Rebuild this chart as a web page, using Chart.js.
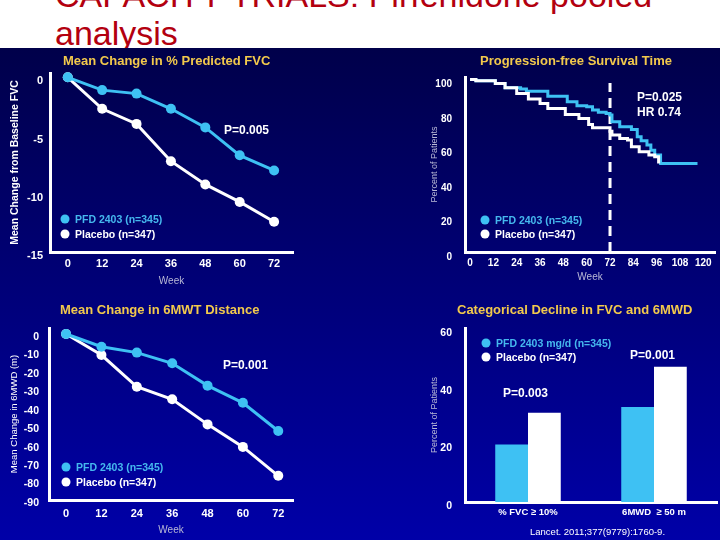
<!DOCTYPE html>
<html>
<head>
<meta charset="utf-8">
<title>CAPACITY trials: Pirfenidone pooled analysis</title>
<script src="https://cdn.jsdelivr.net/npm/chart.js@4.4.1/dist/chart.umd.min.js"></script>
<style>
    body { margin: 0; background: #fff; }
    #slide { position: relative; width: 720px; height: 540px; overflow: hidden; background: #fff; font-family: "Liberation Sans", Arial, sans-serif; }
    #heading { position: absolute; left: 55px; top: -24px; margin: 0; color: #b3000f; font-size: 34px; font-weight: normal; line-height: 38px; white-space: nowrap; }
    #board { position: absolute; left: 0; top: 48px; width: 720px; height: 492px; background: linear-gradient(#00004a, #0000a8); }
    canvas { position: absolute; }
    .txt { position: absolute; white-space: pre; line-height: 1; transform: translateY(-50%); }
    .panel-title { color: #f2c94c; font-weight: bold; font-size: 13px; }
    .pval { color: #fff; font-weight: bold; font-size: 12px; }
    .leg { font-weight: bold; font-size: 10.5px; }
    .dot { position: absolute; width: 9px; height: 9px; border-radius: 50%; transform: translate(-50%, -50%); }
    .cite { color: #fff; font-size: 9.5px; }
</style>
</head>
<body>
<div id="slide">
    <h1 id="heading">CAPACITY TRIALS: Pirfenidone pooled<br>analysis</h1>
    <div id="board"></div>
    <canvas id="fvc-chart" width="300" height="250" style="left:0;top:48px"></canvas>
    <canvas id="pfs-chart" width="300" height="250" style="left:420px;top:48px"></canvas>
    <canvas id="walk-chart" width="300" height="242" style="left:0;top:298px"></canvas>
    <canvas id="decline-chart" width="300" height="242" style="left:420px;top:298px"></canvas>
</div>
<script>
// Series names
const pfdName = 'PFD 2403 (n=345)';
const placeboName = 'Placebo (n=347)';
const barPfdName = 'PFD 2403 mg/d (n=345)';

// Top left - mean change in % predicted FVC
const weeks = [0, 12, 24, 36, 48, 60, 72];
const fvcPfd = [0, -1.1, -1.4, -2.7, -4.3, -6.7, -8.0];
const fvcPlacebo = [0, -2.7, -4.0, -7.2, -9.2, -10.7, -12.4];
const fvcTicks = [0, -5, -10, -15];

// Top right - progression-free survival (Kaplan-Meier steps)
const kmPfdWeeks = [0, 3, 13, 18, 26, 29, 40, 50, 55, 60, 63, 66, 70, 72, 73, 77, 83, 86, 88, 91, 93, 95, 98, 117];
const kmPfdValues = [100, 99.3, 97.8, 95.2, 94.5, 93.3, 90.4, 87.1, 84.8, 84.2, 82.3, 81, 80.4, 79.4, 75.5, 72.6, 71.1, 66.8, 64.5, 62, 59, 56.2, 51.3, 51.3];
const kmPlaceboWeeks = [0, 3, 13, 18, 24, 30, 36, 40, 49, 56, 61, 63, 72, 73, 77, 81, 83, 87, 92, 95, 97];
const kmPlaceboValues = [100, 99.3, 97.8, 95.2, 92, 88.7, 86.2, 83.3, 79.8, 77.5, 74, 72, 70, 67.8, 65.8, 64.9, 61, 58.1, 56.2, 55.2, 51.3];
const kmWeekTicks = [0, 12, 24, 36, 48, 60, 72, 84, 96, 108, 120];
const kmPercentTicks = [0, 20, 40, 60, 80, 100];
const dashWeek = 72;

// Bottom left - mean change in 6MWT distance
const walkPfd = [0, -6.9, -10.1, -15.9, -28, -37.3, -52.6];
const walkPlacebo = [0, -11.4, -28.6, -35.4, -49, -61.2, -76.9];
const walkTicks = [0, -10, -20, -30, -40, -50, -60, -70, -80, -90];

// Bottom right - categorical decline
const declineCategories = ['% FVC \u2265 10%', '6MWD  \u2265 50 m'];
const declinePfd = [20, 33];
const declinePlacebo = [31, 47];
const declineTicks = [0, 20, 40, 60];

const cyan = '#3ec1f3';
const white = '#ffffff';
const grey = '#b9b9d6';
const slide = document.getElementById('slide');

Chart.defaults.font.family = '"Liberation Sans", Arial, sans-serif';

// Helpers
function toPoints(xs, ys) {
    return xs.map((x, i) => ({ x: x, y: ys[i] }));
}

function fixedTicks(values) {
    return axis => { axis.ticks = values.map(v => ({ value: v })); };
}

function addText(txt, x, y, cls, color) {
    const el = document.createElement('div');
    el.className = 'txt ' + cls;
    el.textContent = txt;
    el.style.left = x + 'px';
    el.style.top = y + 'px';
    if (color) el.style.color = color;
    slide.appendChild(el);
}

function addLegend(x, y, name, color) {
    const dot = document.createElement('div');
    dot.className = 'dot';
    dot.style.left = x + 'px';
    dot.style.top = y + 'px';
    dot.style.background = color;
    slide.appendChild(dot);
    addText(name, x + 10, y, 'leg', color === white ? white : '#45b8ee');
}

function baseOptions(padding) {
    return {
        responsive: false,
        animation: false,
        devicePixelRatio: 1,
        layout: { padding: padding },
        plugins: { legend: { display: false }, tooltip: { enabled: false } }
    };
}

function axisBase() {
    return {
        grid: { display: false, drawTicks: false },
        border: { color: white, width: 3 }
    };
}

function lineSeries(points, color, radius) {
    return {
        data: points,
        borderColor: color,
        backgroundColor: color,
        pointBackgroundColor: color,
        pointBorderWidth: 0,
        pointRadius: radius,
        borderWidth: 3,
        clip: false
    };
}

// Chart 1: FVC
const fvcOptions = baseOptions({ top: 25, right: 7, left: 0, bottom: 0 });
fvcOptions.scales = {
    x: Object.assign(axisBase(), {
        type: 'linear', min: -6.2, max: 78.6,
        afterBuildTicks: fixedTicks(weeks),
        afterFit: a => { a.height = 46; },
        ticks: { color: white, font: { size: 11, weight: 'bold' }, padding: 5 },
        title: { display: true, text: 'Week', color: grey, font: { size: 10 }, padding: { top: 0, bottom: 11 } }
    }),
    y: Object.assign(axisBase(), {
        min: -15, max: 0.37,
        afterBuildTicks: fixedTicks(fvcTicks),
        afterFit: a => { a.width = 50; },
        ticks: { color: white, font: { size: 11, weight: 'bold' }, padding: 7, labelOffset: 4 },
        title: { display: true, text: 'Mean Change from Baseline FVC', color: white, font: { size: 10.5, weight: 'bold' }, padding: { top: 9, bottom: 0 } }
    })
};
new Chart(document.getElementById('fvc-chart'), {
    type: 'line',
    data: {
        datasets: [
            lineSeries(toPoints(weeks, fvcPfd), cyan, 5),
            lineSeries(toPoints(weeks, fvcPlacebo), white, 5)
        ]
    },
    options: fvcOptions
});

// Chart 2: progression-free survival
const pfsOptions = baseOptions({ top: 29, right: 5, left: 0, bottom: 0 });
pfsOptions.scales = {
    x: Object.assign(axisBase(), {
        type: 'linear', min: -2.6, max: 126,
        afterBuildTicks: fixedTicks(kmWeekTicks),
        afterFit: a => { a.height = 46; },
        ticks: { color: white, font: { size: 10, weight: 'bold' }, padding: 5 },
        title: { display: true, text: 'Week', color: grey, font: { size: 10 }, padding: { top: 0, bottom: 15 } }
    }),
    y: Object.assign(axisBase(), {
        min: 0, max: 101.5,
        afterBuildTicks: fixedTicks(kmPercentTicks),
        afterFit: a => { a.width = 45; },
        ticks: { color: white, font: { size: 10, weight: 'bold' }, padding: 13, labelOffset: 5 },
        title: { display: true, text: 'Percent of Patients', color: grey, font: { size: 9 }, padding: { top: 9, bottom: 0 } }
    })
};
const kmPlacebo = lineSeries(toPoints(kmPlaceboWeeks, kmPlaceboValues), white, 0);
kmPlacebo.stepped = true;
const kmPfd = lineSeries(toPoints(kmPfdWeeks, kmPfdValues), cyan, 0);
kmPfd.stepped = true;
const dashLine = lineSeries(toPoints([dashWeek, dashWeek], [0, 98]), white, 0);
dashLine.borderDash = [10, 6];
new Chart(document.getElementById('pfs-chart'), {
    type: 'line',
    data: { datasets: [kmPlacebo, kmPfd, dashLine] },
    options: pfsOptions
});

// Chart 3: 6MWT distance
const walkOptions = baseOptions({ top: 30, right: 7, left: 0, bottom: 0 });
walkOptions.scales = {
    x: Object.assign(axisBase(), {
        type: 'linear', min: -5.8, max: 77,
        afterBuildTicks: fixedTicks(weeks),
        afterFit: a => { a.height = 40; },
        ticks: { color: white, font: { size: 11, weight: 'bold' }, padding: 7 },
        title: { display: true, text: 'Week', color: grey, font: { size: 10 }, padding: { top: 0, bottom: 4 } }
    }),
    y: Object.assign(axisBase(), {
        min: -90, max: 3.25,
        afterBuildTicks: fixedTicks(walkTicks),
        afterFit: a => { a.width = 49; },
        ticks: { color: white, font: { size: 10.5, weight: 'bold' }, padding: 10, labelOffset: 3 },
        title: { display: true, text: 'Mean Change in 6MWD (m)', color: white, font: { size: 9.5 }, padding: { top: 9, bottom: 0 } }
    })
};
new Chart(document.getElementById('walk-chart'), {
    type: 'line',
    data: {
        datasets: [
            lineSeries(toPoints(weeks, walkPfd), cyan, 5),
            lineSeries(toPoints(weeks, walkPlacebo), white, 5)
        ]
    },
    options: walkOptions
});

// Chart 4: categorical decline
const declineOptions = baseOptions({ top: 30, right: 3, left: 0, bottom: 0 });
declineOptions.datasets = { bar: { barPercentage: 1, categoryPercentage: 0.52 } };
declineOptions.scales = {
    x: Object.assign(axisBase(), {
        afterFit: a => { a.height = 38; },
        ticks: { color: white, font: { size: 9.5, weight: 'bold' }, padding: 5 }
    }),
    y: Object.assign(axisBase(), {
        min: 0, max: 60.5,
        afterBuildTicks: fixedTicks(declineTicks),
        afterFit: a => { a.width = 45; },
        ticks: { color: white, font: { size: 10.5, weight: 'bold' }, padding: 13, labelOffset: 4 },
        title: { display: true, text: 'Percent of Patients', color: grey, font: { size: 9 }, padding: { top: 9, bottom: 0 } }
    })
};
new Chart(document.getElementById('decline-chart'), {
    type: 'bar',
    data: {
        labels: declineCategories,
        datasets: [
            { label: barPfdName, data: declinePfd, backgroundColor: cyan, borderWidth: 0 },
            { label: placeboName, data: declinePlacebo, backgroundColor: white, borderWidth: 0 }
        ]
    },
    options: declineOptions
});

// Panel titles, p-values, legends
addText('Mean Change in % Predicted FVC', 63, 60, 'panel-title');
addText('Progression-free Survival Time', 480, 60, 'panel-title');
addText('Mean Change in 6MWT Distance', 60, 309, 'panel-title');
addText('Categorical Decline in FVC and 6MWD', 457, 309, 'panel-title');

addText('P=0.005', 224, 130, 'pval');
addText('P=0.025', 637, 97, 'pval');
addText('HR 0.74', 637, 112, 'pval');
addText('P=0.001', 223, 365, 'pval');
addText('P=0.003', 503, 393, 'pval');
addText('P=0.001', 630, 355, 'pval');

addLegend(65, 219, pfdName, cyan);
addLegend(65, 234, placeboName, white);
addLegend(485, 220, pfdName, cyan);
addLegend(485, 234, placeboName, white);
addLegend(66, 467, pfdName, cyan);
addLegend(66, 482, placeboName, white);
addLegend(486, 343, barPfdName, cyan);
addLegend(486, 357, placeboName, white);

addText('Lancet. 2011;377(9779):1760-9.', 530, 532, 'cite');
</script>
</body>
</html>
